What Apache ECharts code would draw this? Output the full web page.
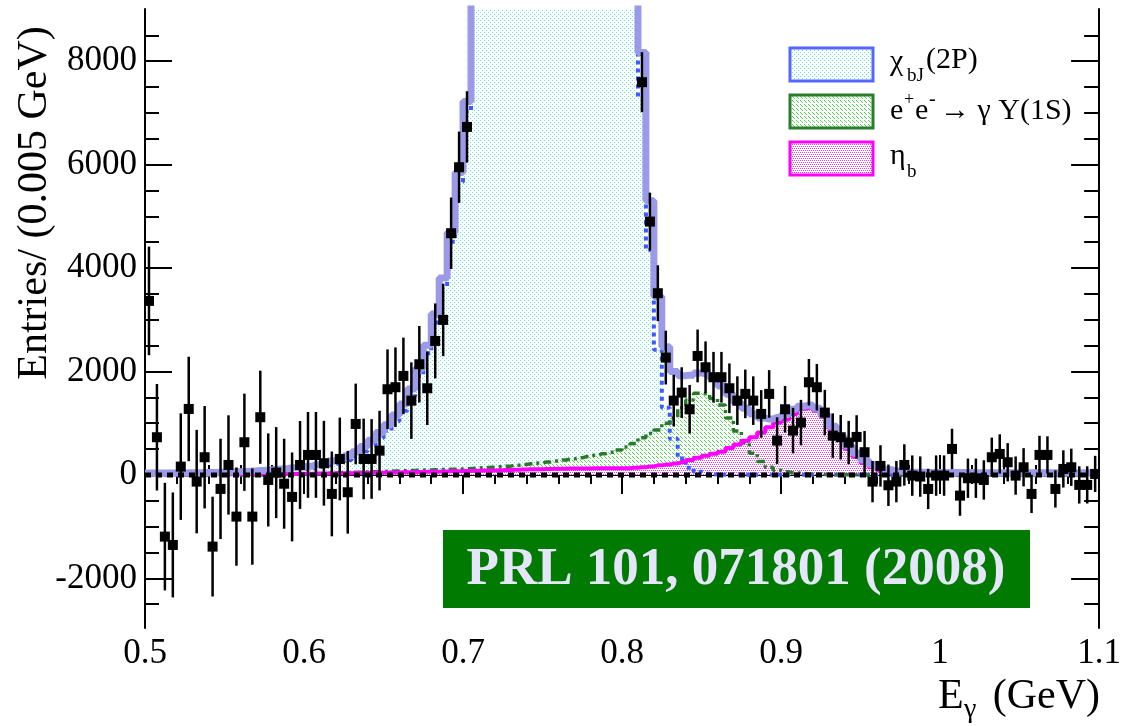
<!DOCTYPE html>
<html>
<head>
<meta charset="utf-8">
<title>E_gamma spectrum</title>
<script src="https://cdn.jsdelivr.net/npm/echarts@6.0.0/dist/echarts.min.js"></script>
<style>
  html, body { margin: 0; padding: 0; background: #fff; }
  #chart { width: 1124px; height: 726px; }
</style>
</head>
<body>
<div id="chart"></div>
<script>
// binning of the histogram (GeV)
const xMin = 0.5
const xMax = 1.1
const binWidth = 0.005

// data points, 120 bins (background subtracted)
const dataCounts = [
  3365, 729, -1193, -1354, 161, 1276, -129, 342, -1386, -270,
  193, -806, 632, -806, 1116, -97, 45, -170, -425, 193,
  387, 387, 226, -367, 309, -335, 986, 309, 309, 470,
  1657, 1696, 1915, 1437, 2140, 1676, 2591, 2998, 4674, 5950,
  6730, 10600, 12700, 15900, 18500, 22700, 25000, 27400, 26900, 26200,
  23100, 21200, 18900, 17300, 16900, 17700, 18600, 19900, 19400, 18100,
  14400, 11900, 7595, 4899, 3514, 2269, 1437, 1592, 1270, 2301,
  2082, 1889, 1889, 1676, 1437, 1567, 1437, 1180, 1567, 664,
  1270, 857, 1012, 1792, 1696, 1205, 760, 729, 625, 735,
  439, -129, 174, -200, -129, 193, -13, -32, -271, -13,
  -13, 503, -400, -64, -64, -97, 342, 406, 245, -13,
  148, -367, 387, 387, -271, 116, 148, -193, -193, 19
]
const dataErrors = [
  1050, 1030, 1040, 1015, 1030, 1010, 1000, 990, 965, 970,
  960, 950, 940, 930, 900, 900, 880, 870, 860, 850,
  830, 830, 820, 820, 800, 800, 780, 780, 770, 770,
  770, 770, 740, 740, 740, 710, 725, 700, 690, 690,
  690, 700, 700, 720, 740, 760, 780, 790, 790, 790,
  770, 760, 740, 720, 720, 730, 740, 750, 740, 720,
  690, 650, 580, 560, 540, 520, 500, 490, 470, 510,
  500, 490, 490, 480, 470, 470, 470, 460, 460, 450,
  450, 440, 440, 450, 450, 440, 430, 430, 420, 420,
  410, 400, 400, 400, 400, 400, 390, 390, 390, 390,
  390, 390, 390, 380, 380, 380, 380, 380, 370, 370,
  370, 370, 370, 360, 360, 360, 360, 360, 360, 350
]

// fit components
const chiFit = [
  25, 25, 25, 25, 25, 30, 30, 33, 33, 38,
  41, 46, 51, 59, 69, 77, 92, 100, 110, 120,
  126, 144, 172, 205, 238, 291, 364, 457, 569, 713,
  855, 1037, 1240, 1522, 1914, 2355, 2947, 3639, 4510, 5665,
  7030, 10300, 12600, 15400, 18800, 22300, 25200, 27000, 27200, 25900,
  23500, 20800, 18500, 17000, 16600, 17200, 18400, 19300, 19200, 17600,
  14600, 11200, 7300, 4350, 2420, 1300, 700, 320, 140, 60,
  25, 10, 5, 5, 5, 5, 5, 5, 5, 5,
  5, 5, 5, 5, 5, 5, 5, 5, 5, 5,
  5, 5, 5, 5, 5, 5, 5, 5, 5, 5,
  5, 5, 5, 5, 5, 5, 5, 5, 5, 5,
  5, 5, 5, 5, 5, 5, 5, 5, 5, 5
]
const isrFit = [
  0, 0, 0, 0, 0, 0, 0, 0, 0, 0,
  0, 0, 0, 0, 0, 0, 0, 0, 10, 15,
  20, 25, 30, 35, 40, 45, 50, 55, 60, 65,
  70, 75, 80, 85, 90, 95, 100, 105, 110, 115,
  120, 130, 140, 150, 160, 170, 185, 200, 215, 230,
  250, 270, 290, 310, 330, 355, 380, 410, 440, 480,
  540, 610, 720, 800, 870, 1000, 1100, 1300, 1450, 1580,
  1570, 1480, 1350, 1100, 850, 620, 420, 260, 150, 90,
  60, 40, 30, 20, 15, 10, 10, 5, 5, 5,
  0, 0, 0, 0, 0, 0, 0, 0, 0, 0,
  0, 0, 0, 0, 0, 0, 0, 0, 0, 0,
  0, 0, 0, 0, 0, 0, 0, 0, 0, 0
]
const etabFit = [
  10, 10, 10, 10, 10, 10, 10, 12, 12, 12,
  14, 14, 14, 16, 16, 18, 18, 20, 20, 22,
  24, 26, 28, 30, 32, 34, 36, 38, 40, 42,
  45, 48, 50, 53, 56, 60, 63, 66, 70, 73,
  77, 80, 84, 88, 92, 96, 100, 104, 108, 112,
  116, 118, 120, 122, 124, 126, 128, 130, 130, 130,
  130, 140, 150, 165, 185, 200, 220, 250, 290, 330,
  370, 410, 450, 520, 590, 660, 730, 820, 920, 1010,
  1070, 1180, 1280, 1300, 1240, 1120, 900, 700, 500, 350,
  230, 150, 90, 60, 40, 30, 20, 20, 20, 20,
  20, 20, 20, 20, 20, 20, 20, 20, 20, 20,
  20, 20, 20, 20, 20, 20, 20, 20, 20, 20
]
const totalFit = [
  35, 35, 35, 35, 35, 40, 40, 45, 45, 50,
  55, 60, 65, 75, 85, 95, 110, 120, 140, 155,
  170, 195, 230, 270, 310, 370, 450, 550, 670, 820,
  970, 1160, 1370, 1660, 2060, 2510, 3110, 3810, 4690, 5850,
  7220, 10510, 12820, 15630, 19050, 22560, 25480, 27300, 27520, 26240,
  23860, 21190, 18910, 17430, 17050, 17680, 18910, 19840, 19770, 18210,
  15270, 11950, 8170, 5300, 3450, 2480, 2000, 1920, 1930, 1970,
  1960, 1870, 1720, 1560, 1400, 1290, 1180, 1100, 1080, 1110,
  1170, 1270, 1330, 1350, 1290, 1160, 940, 740, 560, 420,
  290, 200, 140, 100, 75, 60, 50, 50, 45, 45,
  45, 45, 45, 45, 40, 40, 40, 40, 40, 40,
  40, 40, 40, 40, 40, 40, 40, 40, 40, 40
]
const backgroundLevel = 0

// axis ticks and labels
const yMin = -2960
const yMax = 9010
const yMajorTicks = [-2000, 0, 2000, 4000, 6000, 8000]
const yMinorTicks = [-2500, -1500, -1000, -500, 500, 1000, 1500, 2500, 3000, 3500,
  4500, 5000, 5500, 6500, 7000, 7500, 8500]

const referenceText = 'PRL 101, 071801 (2008)'

const serif = '"Liberation Serif", "Times New Roman", serif'

// bin centres
const centers = dataCounts.map((v, i) => +(xMin + (i + 0.5) * binWidth).toFixed(4))

// histogram line data, padded to the axis edges so step: 'middle' covers whole bins
function stepData (vals) {
  const out = [[xMin, vals[0]]]
  vals.forEach((v, i) => out.push([centers[i], v]))
  out.push([xMax, vals[vals.length - 1]])
  return out
}

// small dotted fill patterns like ROOT fill styles
function dotPattern (color, cells) {
  const c = document.createElement('canvas')
  c.width = 4
  c.height = 4
  const ctx = c.getContext('2d')
  ctx.fillStyle = '#ffffff'
  ctx.fillRect(0, 0, 4, 4)
  ctx.fillStyle = color
  cells.forEach(p => ctx.fillRect(p[0], p[1], 1, 1))
  return { image: c, repeat: 'repeat' }
}
const cyanFill = dotPattern('#55e6e6', [[0, 0], [2, 2]])
const greenFill = dotPattern('#4fd84f', [[0, 0], [2, 2], [1, 1]])
const pinkFill = dotPattern('#f03cf0', [[0, 0], [2, 0], [1, 2], [3, 2]])

const chart = echarts.init(document.getElementById('chart'), null, { renderer: 'canvas' })

const frame = { show: true, lineStyle: { color: '#000', width: 2 } }

function xAxisDef (pos, major, minor, labels) {
  return {
    type: 'value',
    position: pos,
    min: xMin,
    max: xMax,
    interval: 0.1,
    axisLine: frame,
    axisTick: { show: true, inside: true, length: major, lineStyle: { color: '#000', width: 2 } },
    minorTick: { show: true, splitNumber: 5, length: minor, lineStyle: { color: '#000', width: 2 } },
    splitLine: { show: false },
    axisLabel: labels
      ? { show: true, color: '#000', fontFamily: serif, fontSize: 35, margin: 8, formatter: v => String(+v.toFixed(2)) }
      : { show: false }
  }
}

function yAxisDef (pos, ticks, len, line, labels) {
  return {
    type: 'value',
    position: pos,
    min: yMin,
    max: yMax,
    axisLine: line ? frame : { show: false },
    axisTick: { show: true, inside: true, length: len, customValues: ticks, lineStyle: { color: '#000', width: 2 } },
    splitLine: { show: false },
    axisLabel: labels
      ? { show: true, customValues: ticks, color: '#000', fontFamily: serif, fontSize: 35, margin: 8, formatter: v => String(v) }
      : { show: false }
  }
}

function stepLine (vals, color, width, dash, z) {
  return {
    type: 'line',
    step: 'middle',
    data: stepData(vals),
    symbol: 'none',
    clip: true,
    z: z,
    lineStyle: { color: color, width: width, type: dash || 'solid' },
    silent: true
  }
}

function stepArea (vals, fill, z) {
  return {
    type: 'line',
    step: 'middle',
    data: stepData(vals),
    symbol: 'none',
    clip: true,
    z: z,
    lineStyle: { width: 0 },
    areaStyle: { color: fill, opacity: 1 },
    silent: true
  }
}

function txt (x, y, text, size, align, extra) {
  return Object.assign({
    type: 'text',
    x: x,
    y: y,
    z: 100,
    style: Object.assign({
      text: text,
      fontFamily: serif,
      fontSize: size,
      fill: '#000',
      align: align || 'left',
      verticalAlign: 'middle',
      textAlign: align || 'left',
      textVerticalAlign: 'middle'
    }, (extra && extra.style) || {})
  }, extra && extra.rotation ? { rotation: extra.rotation } : {})
}

function legendBox (y, fill, stroke) {
  return {
    type: 'rect',
    z: 100,
    shape: { x: 790, y: y, width: 83, height: 33 },
    style: { fill: fill, stroke: stroke, lineWidth: 3 }
  }
}

const option = {
  animation: false,
  backgroundColor: '#fff',
  grid: { left: 145, right: 22, top: 9, bottom: 98, containLabel: false },
  xAxis: [
    xAxisDef('bottom', 20, 10, true),
    xAxisDef('top', 19, 9, false)
  ],
  yAxis: [
    yAxisDef('left', yMajorTicks, 27, true, true),
    yAxisDef('left', yMinorTicks, 14, false, false),
    yAxisDef('right', yMajorTicks, 28, true, false),
    yAxisDef('right', yMinorTicks, 15, false, false)
  ],
  series: [
    stepArea(chiFit, cyanFill, 1),
    stepArea(isrFit, greenFill, 2),
    stepArea(etabFit, pinkFill, 3),
    stepLine(chiFit, '#3a5cff', 4, [4, 4], 4),
    stepLine(isrFit, '#287a28', 3.5, [8, 4, 3, 4], 5),
    stepLine(etabFit, '#ff00ff', 4, 'solid', 6),
    stepLine(totalFit, '#9a9ae8', 7, 'solid', 7),
    {
      type: 'line',
      data: [[xMin, backgroundLevel], [xMax, backgroundLevel]],
      symbol: 'none',
      z: 8,
      lineStyle: { color: '#000', width: 5, type: [6, 5] },
      silent: true
    },
    {
      type: 'custom',
      z: 10,
      clip: true,
      data: dataCounts.map((v, i) => [centers[i], v, dataErrors[i]]),
      renderItem: function (params, api) {
        const x = api.value(0)
        const y = api.value(1)
        const e = api.value(2)
        const p = api.coord([x, y])
        const hi = api.coord([x, y + e])
        const lo = api.coord([x, y - e])
        return {
          type: 'group',
          children: [
            { type: 'line', shape: { x1: p[0], y1: hi[1], x2: p[0], y2: lo[1] }, style: { stroke: '#000', lineWidth: 2.5 } },
            { type: 'rect', shape: { x: p[0] - 5, y: p[1] - 5, width: 10, height: 10 }, style: { fill: '#000' } }
          ]
        }
      }
    }
  ],
  graphic: [
    // axis titles
    txt(35, 203, 'Entries/ (0.005 GeV)', 42, 'center', { rotation: Math.PI / 2 }),
    txt(938, 697, 'E', 42),
    txt(964, 710, 'γ', 28),
    txt(1100, 697, '(GeV)', 42, 'right'),
    // legend
    legendBox(48, cyanFill, '#5566ff'),
    legendBox(95, greenFill, '#2a7d2a'),
    legendBox(142, pinkFill, '#ff00ff'),
    txt(890, 62, 'χ', 30),
    txt(907, 76, 'bJ', 19),
    txt(926, 60, '(2P)', 30),
    txt(890, 111, 'e', 30),
    txt(904, 100, '+', 18),
    txt(915, 111, 'e', 30),
    txt(929, 100, '-', 20),
    txt(940, 111, '→ γ Υ(1S)', 30),
    txt(890, 156, 'η', 30),
    txt(907, 172, 'b', 19),
    // reference box
    {
      type: 'rect',
      z: 100,
      shape: { x: 443, y: 530, width: 587, height: 78 },
      style: { fill: '#007a00' }
    },
    txt(736, 570, referenceText, 53, 'center', { style: { fontWeight: 'bold', fill: '#e6e6fa' } })
  ]
}

chart.setOption(option)
</script>
</body>
</html>
